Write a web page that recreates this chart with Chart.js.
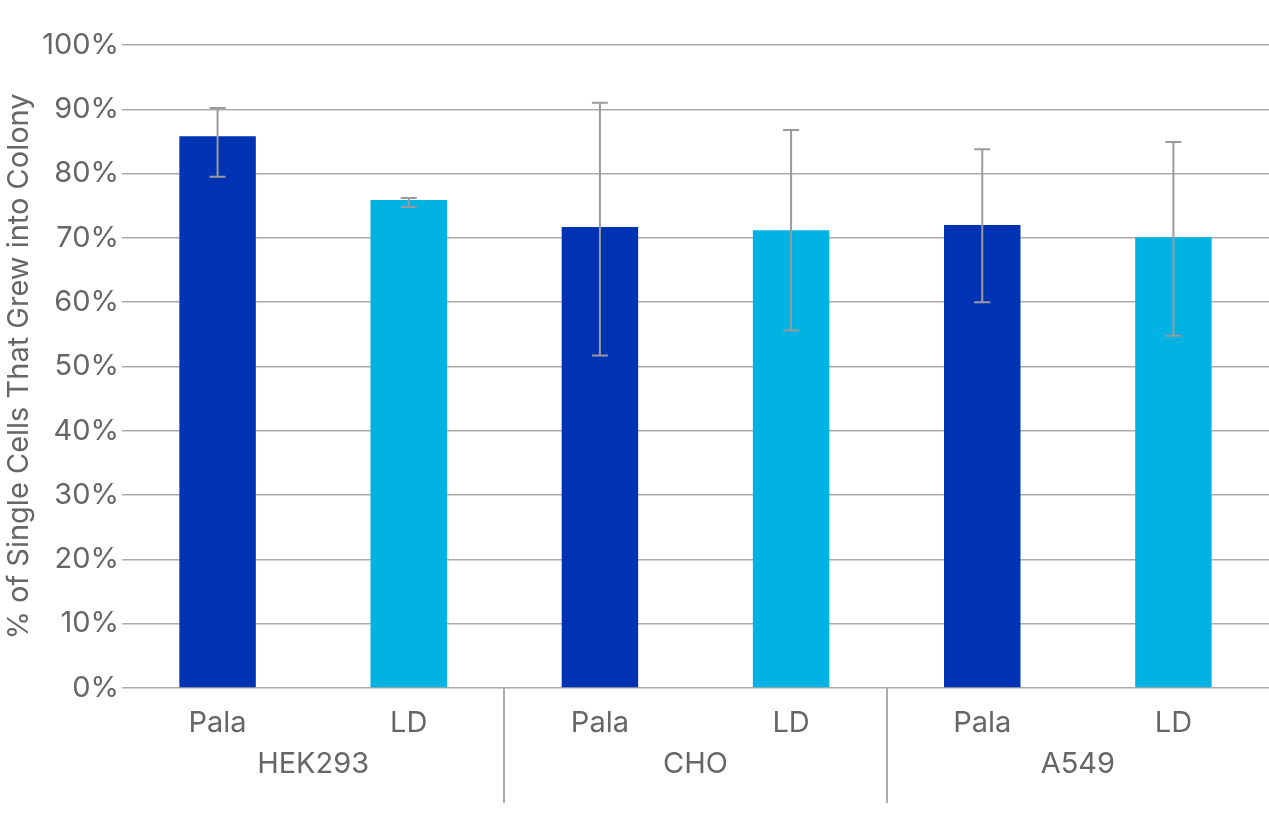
<!DOCTYPE html>
<html>
<head>
<meta charset="utf-8">
<script src="https://cdn.jsdelivr.net/npm/chart.js@4.4.0/dist/chart.umd.min.js"></script>
<style>
  html, body { margin: 0; padding: 0; background: #fff; }
  #wrap { width: 1269px; height: 828px; }
</style>
</head>
<body>
<div id="wrap"><canvas id="colony-chart"></canvas></div>
<script>
// data
const methods = ['Pala', 'LD', 'Pala', 'LD', 'Pala', 'LD'];
const cellLines = ['HEK293', 'CHO', 'A549'];
const colonyPct = [85.8, 75.9, 71.7, 71.2, 72.0, 70.1];
const errLow = [79.5, 74.8, 51.7, 55.6, 60.0, 54.8];
const errHigh = [90.2, 76.2, 91.0, 86.8, 83.8, 84.9];
const barColors = ['#0033b4', '#00b3e3', '#0033b4', '#00b3e3', '#0033b4', '#00b3e3'];

const TEXT = '#666666';
const GRID = '#ababab';

Chart.defaults.font.family = 'Inter';

// error bars, drawn with the chart's own scales
const errorBars = {
  id: 'errorBars',
  afterDatasetsDraw(chart) {
    const ctx = chart.ctx;
    const x = chart.scales.x, y = chart.scales.y;
    ctx.save();
    ctx.strokeStyle = '#9a9a9a';
    ctx.lineWidth = 2;
    colonyPct.forEach((v, i) => {
      const px = x.getPixelForValue(i);
      const top = y.getPixelForValue(errHigh[i]);
      const bot = y.getPixelForValue(errLow[i]);
      ctx.beginPath();
      ctx.moveTo(px, top); ctx.lineTo(px, bot);
      ctx.moveTo(px - 8, top); ctx.lineTo(px + 8, top);
      ctx.moveTo(px - 8, bot); ctx.lineTo(px + 8, bot);
      ctx.stroke();
    });
    ctx.restore();
  }
};

// second row of category labels + separators
const groupAxis = {
  id: 'groupAxis',
  afterDraw(chart) {
    const ctx = chart.ctx;
    const x = chart.scales.x;
    const base = chart.chartArea.bottom;
    ctx.save();
    ctx.fillStyle = TEXT;
    ctx.font = '29px Inter';
    ctx.textAlign = 'center';
    ctx.textBaseline = 'middle';
    cellLines.forEach((name, g) => {
      const cx = (x.getPixelForValue(g * 2) + x.getPixelForValue(g * 2 + 1)) / 2;
      ctx.fillText(name, cx, base + 76);
    });
    ctx.strokeStyle = GRID;
    ctx.lineWidth = 2;
    for (let g = 1; g < cellLines.length; g++) {
      const sx = Math.round((x.getPixelForValue(g * 2 - 1) + x.getPixelForValue(g * 2)) / 2);
      ctx.beginPath();
      ctx.moveTo(sx, base);
      ctx.lineTo(sx, base + 115);
      ctx.stroke();
    }
    ctx.restore();
  }
};

new Chart(document.getElementById('colony-chart'), {
  type: 'bar',
  data: {
    labels: methods,
    datasets: [{
      data: colonyPct,
      backgroundColor: barColors,
      barPercentage: 0.4,
      categoryPercentage: 1.0,
    }],
  },
  options: {
    responsive: true,
    maintainAspectRatio: false,
    animation: false,
    layout: { padding: { top: 45, left: 0, right: 0, bottom: 0 } },
    plugins: {
      legend: { display: false },
      tooltip: { enabled: false },
    },
    scales: {
      x: {
        grid: { display: false },
        border: { display: false },
        ticks: { color: TEXT, font: { size: 29 }, padding: 10 },
        afterFit(scale) { scale.height = 140; },
      },
      y: {
        min: 0,
        max: 100,
        ticks: {
          stepSize: 10,
          color: TEXT,
          font: { size: 29 },
          padding: 3,
          callback: (v) => v + '%',
        },
        grid: { color: GRID, lineWidth: 1.5, drawTicks: false },
        border: { display: false },
        title: {
          display: true,
          text: '% of Single Cells That Grew into Colony',
          color: TEXT,
          font: { size: 29 },
          padding: { top: 2, bottom: 0 },
        },
        afterFit(scale) { scale.width = 122; },
      },
    },
  },
  plugins: [errorBars, groupAxis],
});
</script>
</body>
</html>
